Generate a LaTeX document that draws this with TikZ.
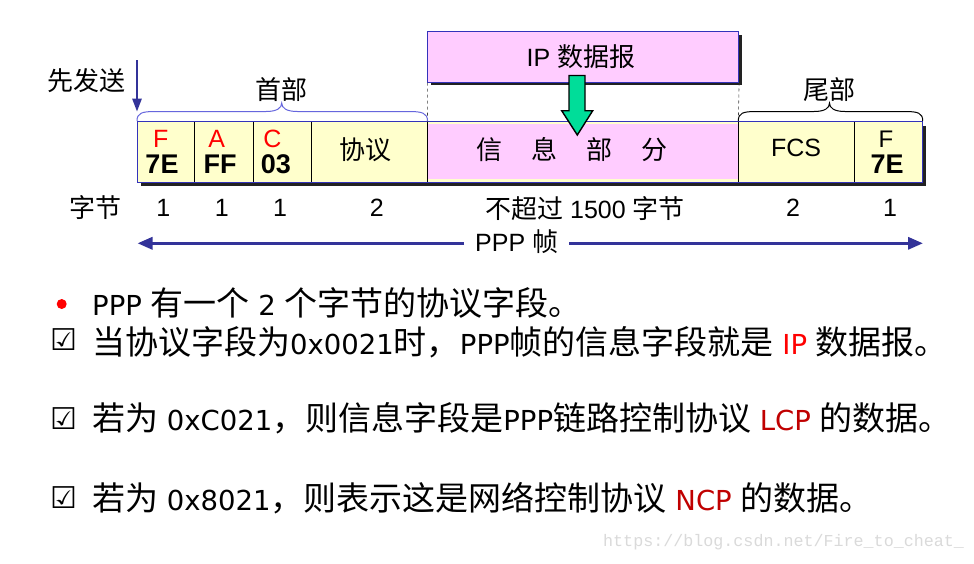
\documentclass[tikz,border=0pt]{standalone}
\usepackage{fontspec}
\setmainfont{Liberation Sans}
\newfontfamily\cjk{Noto Sans CJK SC}
\newfontfamily\dv{DejaVu Sans}
\newfontfamily\lmono{Liberation Mono}
\usetikzlibrary{arrows.meta}
\definecolor{cellyellow}{HTML}{FFFFCC}
\definecolor{cellpink}{HTML}{FFCCFF}
\definecolor{frameblue}{HTML}{3333BB}
\definecolor{braceblue}{HTML}{6666DD}
\definecolor{arrowblue}{HTML}{333399}
\definecolor{arrowgreen}{HTML}{00DD99}
\definecolor{ipred}{HTML}{FF0000}
\definecolor{darkred}{HTML}{C00000}
\definecolor{wmgray}{HTML}{DADADA}
\definecolor{shadowgray}{HTML}{222222}
\newcommand\ZH[1]{{\cjk\fontsize{33}{38}\selectfont #1}}
\newcommand\LA[1]{{\dv\fontsize{27.5}{32}\selectfont #1}}
\newcommand\DZ[1]{{\cjk\fontsize{26}{30}\selectfont #1}}
\newcommand\DL[1]{{\fontsize{25}{30}\selectfont #1}}
\tikzset{
  lbl/.style={inner sep=0pt},
  redlbl/.style={inner sep=0pt, text=ipred, font=\fontsize{25}{28}\selectfont},
  hexlbl/.style={inner sep=0pt, font=\bfseries\fontsize{27}{30}\selectfont},
  numlbl/.style={inner sep=0pt, font=\fontsize{25}{30}\selectfont},
  line/.style={inner sep=0pt, anchor=base west},
  chk/.style={inner sep=0pt, font=\dv\fontsize{30}{34}\selectfont},
  divider/.style={black, line width=1pt},
}
\begin{document}
\begin{tikzpicture}[x=1pt,y=-1pt]
\useasboundingbox (0,0) rectangle (974,563);
\fill[white] (0,0) rectangle (974,563);

% ---------- frame ----------
\fill[shadowgray] (140.5,125.5) rectangle (926.2,185.8);
\fill[cellyellow] (137,121.7) rectangle (922.7,182.3);
\fill[cellpink] (427.5,123.6) rectangle (738.3,179);
\foreach \x in {194.3,253.3,311.7,427.5,738.3,854.3}
  \draw[divider] (\x,121.7) -- (\x,182.3);
\draw[frameblue, line width=1pt] (137,121.7) rectangle (922.7,182.3);
\coordinate (infoTL) at (427.5,121.7);
\coordinate (infoTR) at (738.3,121.7);

% ---------- IP datagram box ----------
\fill[shadowgray] (430.8,34.5) rectangle (741.8,85.2);
\node[draw=frameblue, fill=cellpink, line width=0.8pt, minimum width=311, minimum height=50.7,
      anchor=north west, inner sep=0pt] (ip) at (427.3,31) {};
\node[lbl] (iptxt) at (581,57) {\DL{IP }\DZ{数据报}};
\draw[dashed, black!75, line width=0.6pt] (ip.south west) -- (infoTL);
\draw[dashed, black!75, line width=0.6pt] (ip.south east) -- (infoTR);

% green arrow
\draw[fill=arrowgreen, line width=1.4pt, line join=miter]
  (569,75.5) -- (585,75.5) -- (585,110.7) -- (592.7,110.7) -- (577.3,135)
  -- (561.7,110.7) -- (569,110.7) -- cycle;

% ---------- braces ----------
\draw[braceblue, line width=1pt]
  (137,121) .. controls (137,113) and (142,111.5) .. (155,111.5) -- (266,111.5)
  .. controls (277,111.5) and (281.7,108) .. (281.7,103)
  .. controls (281.7,108) and (286.4,111.5) .. (297.4,111.5) -- (409,111.5)
  .. controls (422,111.5) and (427.5,113) .. (427.5,121);
\node[lbl] (hdr) at (281.7,90) {\DZ{首部}};
\draw[black, line width=1pt]
  (738.3,121) .. controls (738.3,113) and (743,111.5) .. (756,111.5) -- (814,111.5)
  .. controls (825,111.5) and (829.5,108) .. (829.5,103)
  .. controls (829.5,108) and (834,111.5) .. (845,111.5) -- (905,111.5)
  .. controls (918,111.5) and (922.7,113) .. (922.7,121);
\node[lbl] (tail) at (829.5,90) {\DZ{尾部}};

% ---------- send first ----------
\node[lbl] (send) at (86,81) {\DZ{先发送}};
\coordinate (sendtop) at (137,60);
\coordinate (sendtip) at (137,111.7);
\draw[arrowblue, line width=2.5pt, -{Triangle[length=13pt,width=9pt]}] (sendtop) -- (sendtip);

% ---------- cell labels ----------
\node[redlbl] (fF) at (160.8,139) {F};
\node[hexlbl] (f7E) at (162,164) {7E};
\node[redlbl] (fA) at (216.7,139) {A};
\node[hexlbl] (fFF) at (220,164) {FF};
\node[redlbl] (fC) at (272.3,139) {C};
\node[hexlbl] (f03) at (276,164) {03};
\node[lbl] (proto) at (365,150) {\DZ{协议}};
\node[lbl] (info) at (572,150) {\DZ{信\hspace{29pt}息\hspace{29pt}部\hspace{29pt}分}};
\node[numlbl] (fcs) at (796,148) {FCS};
\node[lbl, font=\fontsize{24}{28}\selectfont] (tF) at (886,139) {F};
\node[hexlbl] (t7E) at (887,164) {7E};

% ---------- byte counts ----------
\node[lbl] (bytes) at (95,208) {\DZ{字节}};
\node[numlbl] (n1) at (163.3,208) {1};
\node[numlbl] (n2) at (221.7,208) {1};
\node[numlbl] (n3) at (280,208) {1};
\node[numlbl] (n4) at (376.7,208) {2};
\node[lbl] (n5) at (585,209) {\DZ{不超过}\DL{ 1500 }\DZ{字节}};
\node[numlbl] (n6) at (793,208) {2};
\node[numlbl] (n7) at (890,208) {1};

% ---------- PPP frame arrow ----------
\node[lbl, inner xsep=11pt] (ppp) at (516.7,242) {\DL{PPP }\DZ{帧}};
\coordinate (pppL) at (137.5,243.3);
\coordinate (pppR) at (923,243.3);
\draw[arrowblue, line width=3.2pt, -{Triangle[length=15pt,width=12pt]}] (ppp.west |- pppL) -- (pppL);
\draw[arrowblue, line width=3.2pt, -{Triangle[length=15pt,width=12pt]}] (ppp.east |- pppR) -- (pppR);

% ---------- text lines ----------
\fill[red] (61.7,304) circle (5);
\node[line] (l1) at (92,315) {\LA{PPP }\ZH{有一个}\LA{ 2 }\ZH{个字节的协议字段。}};
\node[chk] (c2) at (64,340) {☑};
\node[line] (l2) at (92,354) {\ZH{当协议字段为}\LA{0x0021}\ZH{时，}\LA{PPP}\ZH{帧的信息字段就是}\LA{ \textcolor{ipred}{IP} }\ZH{数据报。}};
\node[chk] (c3) at (64,419) {☑};
\node[line] (l3) at (92,430) {\ZH{若为}\LA{ 0xC021}\ZH{，则信息字段是}\LA{PPP}\ZH{链路控制协议}\LA{ \textcolor{darkred}{LCP} }\ZH{的数据。}};
\node[chk] (c4) at (64,497.5) {☑};
\node[line] (l4) at (92,510) {\ZH{若为}\LA{ 0x8021}\ZH{，则表示这是网络控制协议}\LA{ \textcolor{darkred}{NCP} }\ZH{的数据。}};

% ---------- watermark ----------
\node[lbl, anchor=west, text=wmgray, font=\lmono\fontsize{16.7}{20}\selectfont] (wm) at (603,542)
  {https://blog.csdn.net/Fire\_to\_cheat\_};
\end{tikzpicture}
\end{document}
